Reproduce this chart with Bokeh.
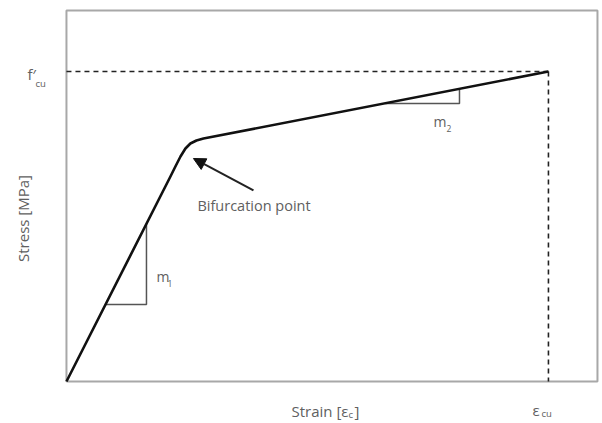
from bokeh.plotting import figure
from bokeh.models import Range1d, Label, Arrow, NormalHead
from bokeh.embed import file_html
from bokeh.resources import INLINE
import math

# ---- data ----
strain = [0, 0.000755, 0.000791, 0.000828, 0.000864, 0.000900, 0.000944, 0.000995, 0.0035]
stress = [0, 33.06, 34.68, 36.29, 37.58, 38.39, 38.87, 39.19, 50.0]
eps_cu = 0.0035
f_cu = 50.0
axis_x_max = 0.003856
axis_y_max = 59.84
tri1_x = [0.000283, 0.000581, 0.000581]
tri1_y = [12.42, 12.42, 25.48]
tri2_x = [0.002316, 0.002854, 0.002854]
tri2_y = [44.84, 44.84, 47.10]

FONT = "Open Sans"
TXT = "#606060"

p = figure(width=600, height=421, output_backend="svg", toolbar_location=None,
           x_axis_location=None, y_axis_location=None,
           x_range=Range1d(-0.000479, 0.003878), y_range=Range1d(-6.452, 61.452),
           min_border=0)
p.grid.visible = False
p.outline_line_color = None
p.background_fill_color = "white"
p.border_fill_color = "white"

# axes box
p.line([0, axis_x_max, axis_x_max, 0, 0], [0, 0, axis_y_max, axis_y_max, 0],
       line_color="#a8a8a8", line_width=2)

# dashed reference lines
p.line([0, eps_cu], [f_cu, f_cu], line_color="#222222", line_width=1.6, line_dash="5 4")
p.line([eps_cu, eps_cu], [f_cu, 0], line_color="#222222", line_width=1.6, line_dash="5 4")

# slope triangles
p.line(tri1_x, tri1_y, line_color="#555555", line_width=1.5)
p.line(tri2_x, tri2_y, line_color="#555555", line_width=1.5)

# stress-strain curve
p.line(strain, stress, line_color="#111111", line_width=2.6, line_join="round")

# arrow
p.add_layout(Arrow(end=NormalHead(size=12, fill_color="#111111", line_color="#111111"),
                   x_start=0.001358, y_start=30.81, x_end=0.000922, y_end=35.97,
                   line_color="#222222", line_width=2))

def lab(text, x, y, size=15, align="left", angle=0):
    p.add_layout(Label(x=x, y=y, text=text, text_font=FONT, text_font_size=f"{size}px",
                       text_color=TXT, text_align=align, text_baseline="middle", angle=angle))

lab("Bifurcation point", 0.000951, 28.39, size=14.5)
lab("Strain [ε", 0.002048, -4.68, align="right")
lab("c", 0.002048, -5.40, size=9.5)
lab("]", 0.002092, -4.68)
lab("ε", 0.003384, -4.52)
lab("cu", 0.003449, -5.20, size=9.5)
lab("f′", -0.000283, 49.52)
lab("cu", -0.000225, 48.06, size=9.5)
lab("m", 0.000654, 16.94, size=14)
lab("1", 0.000733, 15.81, size=8.5)
lab("m", 0.002665, 41.94, size=14)
lab("2", 0.002759, 40.81, size=8.5)
lab("Stress [MPa]", -0.000312, 26.29, size=15, align="center", angle=math.pi / 2)

open("out.html", "w").write(file_html(p, INLINE))
